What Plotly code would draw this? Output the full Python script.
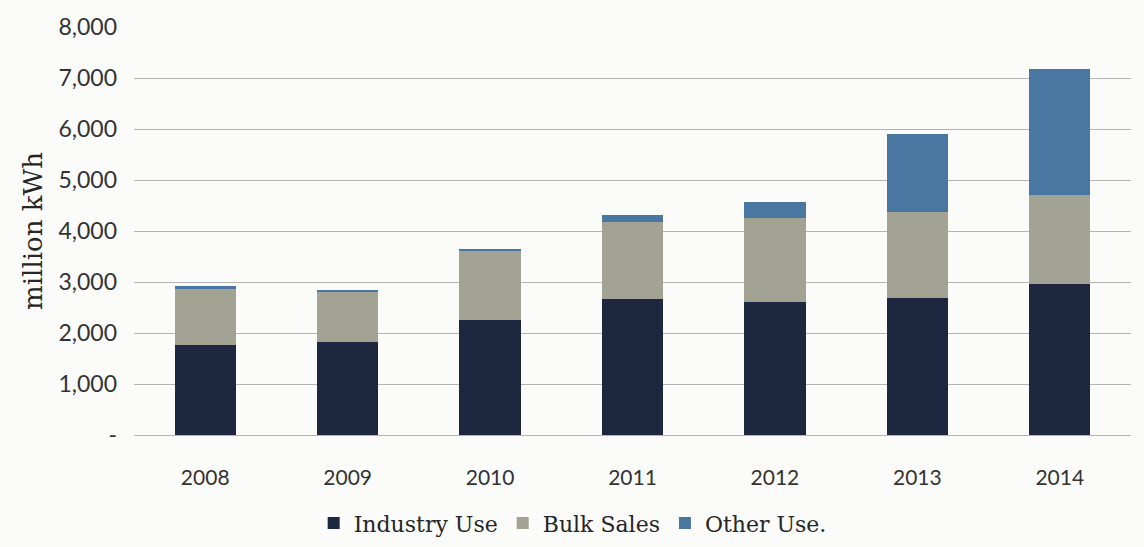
import plotly.graph_objects as go

years = ["2008", "2009", "2010", "2011", "2012", "2013", "2014"]
industry_use = [1770, 1830, 2250, 2660, 2610, 2680, 2960]
bulk_sales = [1090, 970, 1350, 1520, 1640, 1700, 1750]
other_use = [60, 40, 40, 130, 310, 1520, 2470]

y_ticks = [0, 1000, 2000, 3000, 4000, 5000, 6000, 7000, 8000]
y_tick_text = ["-", "1,000", "2,000", "3,000", "4,000", "5,000", "6,000", "7,000", "8,000"]

series = [
    ("Industry Use", industry_use, "#1d2740"),
    ("Bulk Sales", bulk_sales, "#a2a393"),
    ("Other Use.", other_use, "#4a77a2"),
]

fig = go.Figure()
for name, values, color in series:
    fig.add_trace(go.Bar(
        x=years, y=values, name=name,
        marker=dict(color=color, line=dict(width=0)),
    ))

fig.update_layout(
    barmode="stack",
    bargap=0.57,
    width=1144, height=547,
    margin=dict(l=134, r=13, t=27, b=112),
    paper_bgcolor="#fbfbfa",
    plot_bgcolor="#fbfbfa",
    showlegend=True,
    legend=dict(
        orientation="h", x=0.44, xanchor="center",
        yref="container", y=0.005, yanchor="bottom",
        font=dict(family="DejaVu Serif", size=22, color="#262626"),
        itemwidth=30, traceorder="normal",
    ),
    xaxis=dict(
        tickfont=dict(family="Lato", size=21, color="#333333"),
        showgrid=False, zeroline=False, showline=False,
        ticks="", ticklabelstandoff=28,
    ),
    yaxis=dict(
        range=[0, 8000],
        tickvals=y_ticks, ticktext=y_tick_text,
        tickfont=dict(family="Lato", size=23, color="#333333"),
        showgrid=True, gridcolor="#b4b4b4", gridwidth=1,
        zeroline=True, zerolinecolor="#b4b4b4", zerolinewidth=1,
        ticks="", ticklabelstandoff=16,
        title=dict(text="million kWh", font=dict(family="DejaVu Serif", size=26, color="#262626"), standoff=8),
    ),
)

fig.write_html("out.html")
